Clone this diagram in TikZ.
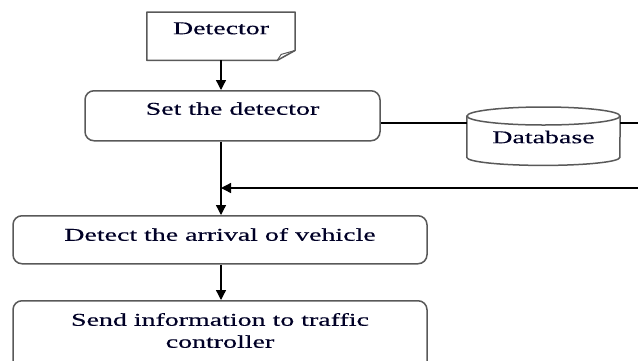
\documentclass[tikz,border=0pt]{standalone}
\usepackage{fontspec}
\setmainfont{Liberation Serif}[FakeStretch=1.55,FakeBold=0.3]
\usetikzlibrary{arrows.meta,calc}
\tikzset{
  txt/.style={inner sep=0pt, font=\fontsize{18}{22}\selectfont, align=center, text=black!85!blue},
  box/.style={txt, draw=black!65, line width=1.5pt, rounded corners=9pt},
  shp/.style={draw=black!65, line width=1.5pt},
  conn/.style={line width=1.3pt, black},
  arr/.style={conn, -{Triangle[length=10pt,width=10pt]}},
}
\begin{document}
\begin{tikzpicture}[x=1pt,y=-1pt]
\path[use as bounding box, clip] (0,0) rectangle (638,360);

% Detector (document shape)
\node[txt, anchor=north, minimum width=148pt, text height=22pt, text depth=26pt] (det) at (221,12) {Detector};
\draw[shp, line join=round] (det.north west) -- (det.north east) -- ($(det.south east)+(0,-10)$)
  -- ($(det.south east)+(-18,0)$) -- (det.south west) -- cycle;
\draw[shp, line width=1pt] ($(det.south east)+(-18,0)$) -- ($(det.south east)+(-14,-6)$) -- ($(det.south east)+(0,-10)$);

% Set the detector
\node[box, anchor=north, minimum width=295pt, text height=24pt, text depth=26pt] (set) at (232.5,90) {Set the detector};

% Database (cylinder)
\node[txt, anchor=north, minimum width=153pt, text height=36pt, text depth=14pt] (db) at (543.5,107) {Database};
\draw[shp] ($(db.north west)+(0,9)$) -- (db.south west)
  arc[start angle=180, end angle=360, x radius=76.5pt, y radius=8pt]
  -- ($(db.north east)+(0,9)$);
\draw[shp] ($(db.north)+(0,9)$) ellipse [x radius=76.5pt, y radius=9pt];

% Detect the arrival of vehicle
\node[box, anchor=north, minimum width=414pt, text height=25pt, text depth=23pt] (detect) at (220,215) {Detect the arrival of vehicle};

% Send information to traffic controller
\node[box, anchor=north, minimum width=414pt, text height=47pt, text depth=28pt] (send) at (220,300) {Send information to traffic\\controller};

% connectors
\coordinate (l1) at ($(set.north east)+(0,33)$);
\coordinate (edge1) at (640,123);
\coordinate (ret) at (640,188);
\draw[conn] (l1) -- (l1 -| db.west);
\draw[conn] (l1 -| db.east) -- (edge1);
\draw[arr] (det.south) -- (set.north -| det.south);
\draw[arr] (set.south -| det.south) -- (detect.north -| det.south);
\draw[arr] (ret) -- (ret -| det.south);
\draw[arr] (detect.south -| det.south) -- (send.north -| det.south);
\end{tikzpicture}
\end{document}
